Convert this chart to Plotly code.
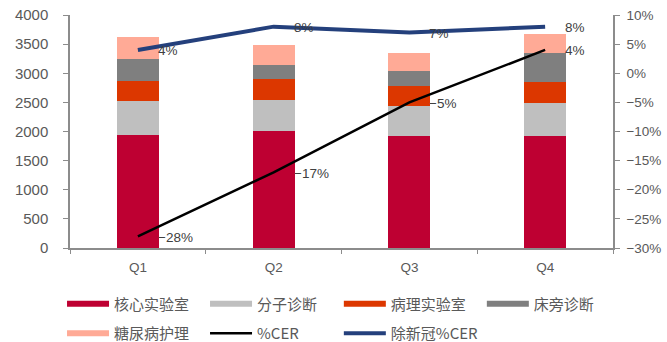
import plotly.graph_objects as go

# Quarterly revenue by business line (left axis) and growth rates (right axis)
quarters = ["Q1", "Q2", "Q3", "Q4"]

core_lab = [1935, 2009, 1917, 1917]
molecular = [594, 537, 515, 572]
pathology = [338, 355, 355, 356]
point_of_care = [383, 235, 246, 503]
diabetes_care = [372, 343, 315, 331]

cer_pct = [-28, -17, -5, 4]
cer_ex_covid_pct = [4, 8, 7, 8]

bar_series = [
    ("核心实验室", core_lab, "#BE0032", "legend"),
    ("分子诊断", molecular, "#BFBFBF", "legend"),
    ("病理实验室", pathology, "#DC3700", "legend3"),
    ("床旁诊断", point_of_care, "#7F7F7F", "legend3"),
    ("糖尿病护理", diabetes_care, "#FFAA96", "legend2"),
]
line_series = [
    ("%CER", cer_pct, "#000000", 2.5, "legend2"),
    ("除新冠%CER", cer_ex_covid_pct, "#24407C", 4, "legend4"),
]

tick_color = "#595959"
axis_color = "#8C8C8C"
label_color = "#404040"
base_font = "Liberation Sans, Arial, sans-serif"
cjk_font = "Noto Sans CJK SC, Liberation Sans, sans-serif"

fig = go.Figure()

for name, vals, color, leg in bar_series:
    fig.add_trace(go.Bar(
        x=quarters, y=vals, name=name, marker=dict(color=color, line=dict(width=0)),
        width=0.31, showlegend=False, legendgroup=name,
    ))
    # legend swatch drawn as a wide band
    fig.add_trace(go.Scatter(
        x=[None], y=[None], mode="lines", name=name, legendgroup=name,
        line=dict(color=color, width=6), legend=leg,
    ))

for name, vals, color, w, leg in line_series:
    fig.add_trace(go.Scatter(
        x=quarters, y=vals, name=name, mode="lines", yaxis="y2",
        line=dict(color=color, width=w), legend=leg,
    ))
    for q, v in zip(quarters, vals):
        txt = f"{v}%".replace("-", "\u2212")
        fig.add_annotation(
            x=q, y=v, yref="y2", text=txt, showarrow=False,
            xanchor="left", yanchor="middle", xshift=18, yshift=-1,
            font=dict(family=base_font, size=13.5, color=label_color),
        )

legend_common = dict(
    orientation="h", xanchor="left", yanchor="middle",
    xref="container", yref="container",
    font=dict(family=cjk_font, size=15, color=tick_color),
    entrywidth=86, entrywidthmode="pixels", itemwidth=42,
    bgcolor="rgba(0,0,0,0)", borderwidth=0, tracegroupgap=0,
)

fig.update_layout(
    width=667, height=342,
    margin=dict(l=70, r=54, t=15, b=94),
    paper_bgcolor="white", plot_bgcolor="white",
    barmode="stack",
    font=dict(family=base_font, color=tick_color),
    xaxis=dict(
        type="category", range=[-0.5, 3.5], showgrid=False, automargin=False,
        showline=True, linecolor=axis_color, linewidth=1.5,
        ticks="outside", tickson="boundaries", ticklen=4, tickcolor=axis_color,
        tickfont=dict(family=base_font, size=13.5, color=tick_color),
        ticklabelstandoff=6,
    ),
    yaxis=dict(
        range=[0, 4000], dtick=500, showgrid=False, zeroline=False, automargin=False,
        showline=True, linecolor=axis_color, linewidth=1.5,
        ticks="outside", ticklen=5, tickcolor=axis_color,
        tickfont=dict(family=base_font, size=15, color=tick_color),
        ticklabelstandoff=12,
    ),
    yaxis2=dict(
        overlaying="y", side="right", range=[-30, 10], dtick=5, ticksuffix="%",
        showgrid=False, zeroline=False, automargin=False,
        showline=True, linecolor=axis_color, linewidth=1.5,
        ticks="outside", ticklen=5, tickcolor=axis_color,
        tickfont=dict(family=base_font, size=13.5, color=tick_color),
        ticklabelstandoff=4,
    ),
    legend=dict(x=0.093, y=0.111, **legend_common),
    legend3=dict(x=0.508, y=0.111, **legend_common),
    legend2=dict(x=0.093, y=0.025, **legend_common),
    legend4=dict(x=0.508, y=0.025, **legend_common),
)

fig.write_html("out.html")
